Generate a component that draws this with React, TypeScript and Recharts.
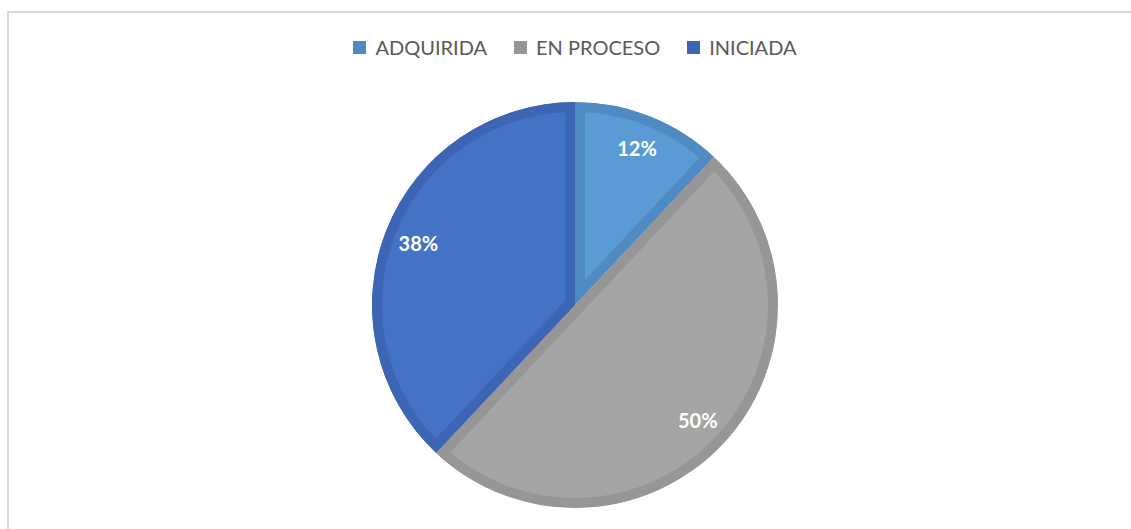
import { PieChart, Pie, Cell, Sector } from 'recharts';

const categories = ['ADQUIRIDA', 'EN PROCESO', 'INICIADA'];
const values = [12, 50, 38];
const fillColors = ['#5b9bd5', '#a5a5a5', '#4472c4'];
const edgeColors = ['#4f8ac3', '#969696', '#3c66b4'];

const data = categories.map((name, i) => ({ name, value: values[i] }));

const RADIAN = Math.PI / 180;

// Excel-style slice: darker band drawn inside the slice edge
function InsetSlice(props: any) {
  const idx = categories.indexOf(props.name ?? props.payload?.name);
  const id = `clip-slice-${idx}`;
  return (
    <g>
      <defs>
        <clipPath id={id}>
          <Sector {...props} stroke="none" />
        </clipPath>
      </defs>
      <Sector
        {...props}
        fill={fillColors[idx]}
        stroke={edgeColors[idx]}
        strokeWidth={20}
        clipPath={`url(#${id})`}
      />
    </g>
  );
}

function renderLabel({ cx, cy, midAngle, outerRadius, percent }: any) {
  const r = outerRadius * 0.83;
  const x = cx + r * Math.cos(-midAngle * RADIAN);
  const y = cy + r * Math.sin(-midAngle * RADIAN);
  return (
    <text
      x={x}
      y={y}
      fill="#ffffff"
      textAnchor="middle"
      dominantBaseline="central"
      style={{ fontFamily: 'Lato, "Open Sans", sans-serif', fontWeight: 700, fontSize: 20 }}
    >
      {`${Math.round(percent * 100)}%`}
    </text>
  );
}

function ChartLegend() {
  return (
    <div
      style={{
        position: 'absolute',
        top: 35,
        left: 0,
        width: 1150,
        display: 'flex',
        justifyContent: 'center',
        alignItems: 'center',
        gap: 27,
        fontFamily: 'Lato, "Open Sans", sans-serif',
        fontSize: 20,
        color: '#595959',
      }}
    >
      {categories.map((name, i) => (
        <div key={name} style={{ display: 'flex', alignItems: 'center', gap: 9 }}>
          <span style={{ width: 13, height: 13, background: edgeColors[i], display: 'inline-block' }} />
          <span>{name}</span>
        </div>
      ))}
    </div>
  );
}

export default function App() {
  return (
    <div style={{ position: 'fixed', left: 0, top: 0, width: 1131, height: 529, background: '#fff', overflow: 'hidden' }}>
      <div
        style={{
          position: 'absolute',
          left: 7,
          top: 11,
          width: 1140,
          height: 540,
          border: '2px solid #d9d9d9',
        }}
      />
      <div style={{ position: 'absolute', left: 0, top: 0 }}>
        <PieChart width={1131} height={529} margin={{ top: 0, right: 0, bottom: 0, left: 0 }}>
          <Pie
            data={data}
            dataKey="value"
            nameKey="name"
            cx={575}
            cy={305}
            outerRadius={203}
            startAngle={90}
            endAngle={-270}
            stroke="none"
            label={renderLabel}
            labelLine={false}
            shape={InsetSlice}
            isAnimationActive={false}
          >
            {data.map((d, i) => (
              <Cell key={d.name} fill={fillColors[i]} />
            ))}
          </Pie>
        </PieChart>
      </div>
      <ChartLegend />
    </div>
  );
}
